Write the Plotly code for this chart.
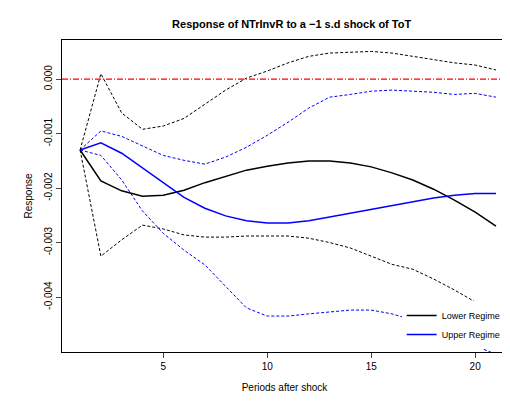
import plotly.graph_objects as go

periods = list(range(1, 22))
lower_mid = [-0.0013,-0.00187,-0.00205,-0.00215,-0.00213,-0.00204,-0.0019,-0.00178,-0.00167,-0.0016,-0.00154,-0.0015,-0.0015,-0.00154,-0.00161,-0.00172,-0.00185,-0.00202,-0.00222,-0.00244,-0.0027]
upper_mid = [-0.0013,-0.00117,-0.00136,-0.00163,-0.0019,-0.00217,-0.00237,-0.00251,-0.0026,-0.00264,-0.00264,-0.0026,-0.00253,-0.00246,-0.00239,-0.00231,-0.00224,-0.00218,-0.00213,-0.0021,-0.0021]
lower_hi = [-0.0013,0.0001,-0.00062,-0.00092,-0.00086,-0.00072,-0.00046,-0.0002,0.00002,0.00015,0.0003,0.00042,0.00048,0.0005,0.00051,0.00048,0.00042,0.00037,0.0003,0.00026,0.00017]
lower_lo = [-0.0013,-0.00325,-0.00295,-0.00268,-0.00275,-0.00286,-0.0029,-0.0029,-0.00288,-0.00288,-0.00288,-0.00292,-0.003,-0.0031,-0.00325,-0.0034,-0.00349,-0.00367,-0.00387,-0.00409,-0.00433]
upper_hi = [-0.0013,-0.00095,-0.00105,-0.00123,-0.0014,-0.00149,-0.00156,-0.00143,-0.00125,-0.00103,-0.00079,-0.00053,-0.00033,-0.00028,-0.00022,-0.0002,-0.00022,-0.00024,-0.00028,-0.00026,-0.00033]
upper_lo = [-0.0013,-0.0014,-0.00185,-0.00242,-0.00283,-0.00314,-0.00341,-0.0038,-0.0042,-0.00435,-0.00435,-0.00431,-0.00428,-0.00424,-0.00424,-0.00431,-0.00442,-0.00455,-0.00473,-0.0049,-0.00505]
y_ticks = [0.0, -0.001, -0.002, -0.003, -0.004]
y_labels = ["0.000", "-0.001", "-0.002", "-0.003", "-0.004"]

fig = go.Figure()
def add(y, color, dash, name=None):
    fig.add_trace(go.Scatter(x=periods, y=y, mode="lines", name=name,
                             showlegend=name is not None,
                             line=dict(color=color, dash=dash, width=1.5 if dash == "solid" else 1.0)))
add(lower_hi, "black", "3px,2px"); add(lower_lo, "black", "3px,2px")
add(upper_hi, "blue", "3px,2px"); add(upper_lo, "blue", "3px,2px")
add(lower_mid, "black", "solid", "Lower Regime")
add(upper_mid, "blue", "solid", "Upper Regime")
fig.add_shape(type="line", xref="paper", x0=0, x1=1, y0=0, y1=0, line=dict(color="red", dash="6px,2px,1px,2px", width=1.2))

fig.update_layout(
    width=502, height=397, paper_bgcolor="white", plot_bgcolor="white",
    margin=dict(l=54, r=3, t=32, b=53, autoexpand=False),
    font=dict(family="Liberation Sans, Arial", size=10, color="black"),
    title=dict(text="<b>Response of NTrInvR to a \u22121 s.d shock of ToT</b>", x=0.565, xanchor="center",
               y=0.96, yanchor="middle", font=dict(size=11)),
    xaxis=dict(range=[0.13, 21.53], tickvals=[5, 10, 15, 20], showgrid=False, zeroline=False, automargin=False,
               showline=True, mirror=True, linecolor="black", ticks="outside", ticklen=5,
               title=dict(text="Periods after shock", standoff=12, font=dict(size=10))),
    yaxis=dict(range=[-0.00501, 0.00072], tickvals=y_ticks, ticktext=y_labels, tickangle=-90, automargin=False,
               showgrid=False, zeroline=False, showline=True, mirror=True, linecolor="black",
               ticks="outside", ticklen=5, title=dict(text="Response", standoff=8, font=dict(size=10))),
    legend=dict(x=0.997, y=0.01, xanchor="right", yanchor="bottom", bgcolor="white",
                borderwidth=0, font=dict(size=9), itemwidth=30, tracegroupgap=0),
)
fig.write_html("out.html")
